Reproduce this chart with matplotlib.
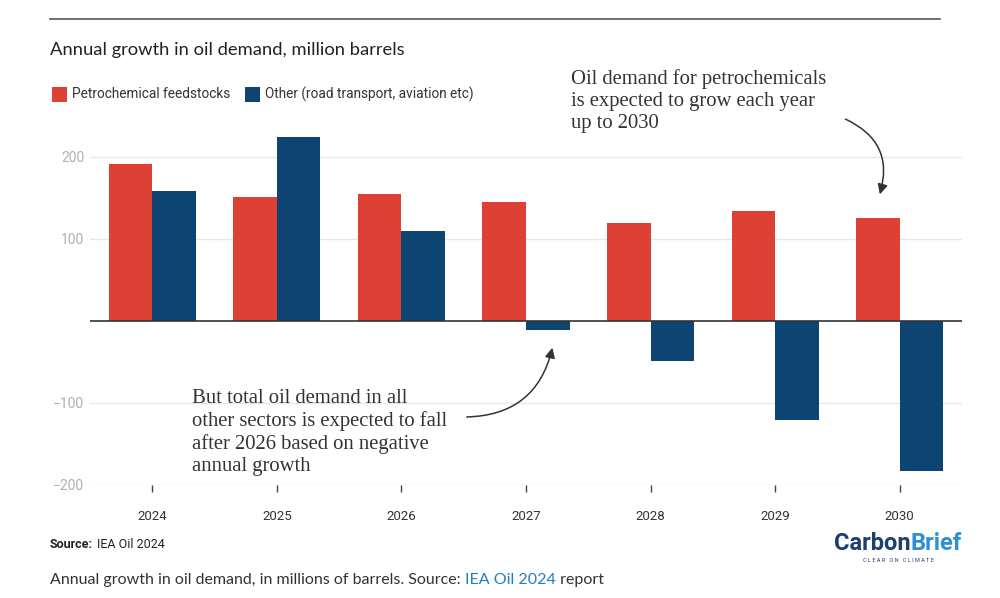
import numpy as np
import matplotlib
matplotlib.use("Agg")
import matplotlib.pyplot as plt
from matplotlib.patches import Rectangle, FancyArrowPatch

years = ["2024", "2025", "2026", "2027", "2028", "2029", "2030"]
petrochem = [191, 151, 155, 145, 120, 134, 126]
other = [158, 224, 110, -11, -49, -121, -183]
yticks = [-200, -100, 100, 200]

RED = "#dd4034"
BLUE = "#0e4472"

fig = plt.figure(figsize=(10, 5.98), dpi=100)
fig.set_facecolor("white")

# axes box in pixel terms: left 90, right 962, top 116, bottom 485
ax = fig.add_axes([0.090, 1 - 485 / 598, 0.872, (485 - 116) / 598])

x = np.arange(len(years))
w = 0.35
ax.bar(x - w / 2, petrochem, w, color=RED, zorder=3)
ax.bar(x + w / 2, other, w, color=BLUE, zorder=3)

ax.set_xlim(-0.5, 6.5)
ax.set_ylim(-200, 250)
ax.set_yticks(yticks)
ax.set_yticklabels([str(t).replace("-", "\u2212") for t in yticks])
ax.yaxis.grid(True, color="#e8e8e8", linewidth=1, zorder=0)
ax.axhline(0, color="#333333", linewidth=1.2, zorder=4)
for s in ax.spines.values():
    s.set_visible(False)

ax.set_xticks(x)
ax.set_xticklabels(years)
ax.tick_params(axis="x", length=5, width=1, color="#444444", pad=13,
               labelsize=9.5, labelcolor="#333333")
ax.tick_params(axis="y", length=0, pad=4, labelsize=10, labelcolor="#b0b0b0")
for lab in ax.get_xticklabels() + ax.get_yticklabels():
    lab.set_family(["Roboto", "DejaVu Sans"])

# top rule
fig.add_artist(plt.Line2D([0.05, 0.94], [1 - 19 / 598] * 2, color="#555555",
                          linewidth=1.2))

fig.text(0.05, 1 - 50 / 598, "Annual growth in oil demand, million barrels",
         fontsize=13.2, family=["Lato", "DejaVu Sans"], color="#222222",
         va="center")

# legend
for px, col, lbl in [(52, RED, "Petrochemical feedstocks"),
                     (245, BLUE, "Other (road transport, aviation etc)")]:
    fig.add_artist(Rectangle((px / 1000, 1 - 102 / 598), 15 / 1000, 15 / 598,
                             facecolor=col, transform=fig.transFigure))
    fig.text((px + 20) / 1000, 1 - 94 / 598, lbl, fontsize=9.8,
             family=["Roboto", "DejaVu Sans"], color="#333333", va="center")

serif = ["Liberation Serif", "DejaVu Serif"]
fig.text(0.571, 1 - 69 / 598,
         "Oil demand for petrochemicals\nis expected to grow each year\nup to 2030",
         fontsize=14.9, family=serif, color="#333333", va="top",
         linespacing=1.22)
fig.text(0.192, 1 - 389 / 598,
         "But total oil demand in all\nother sectors is expected to fall\n"
         "after 2026 based on negative\nannual growth",
         fontsize=14.9, family=serif, color="#333333", va="top",
         linespacing=1.22)

fig.add_artist(FancyArrowPatch(
    (843 / 1000, 1 - 118 / 598), (879 / 1000, 1 - 197 / 598),
    transform=fig.transFigure, connectionstyle="arc3,rad=-0.45",
    arrowstyle="-|>,head_length=6,head_width=3", color="#333333",
    linewidth=1.1))
fig.add_artist(FancyArrowPatch(
    (464 / 1000, 1 - 417 / 598), (553 / 1000, 1 - 345 / 598),
    transform=fig.transFigure, connectionstyle="arc3,rad=0.4",
    arrowstyle="-|>,head_length=6,head_width=3", color="#333333",
    linewidth=1.1))

# source + caption
fig.text(0.05, 1 - 545 / 598, "Source:", fontsize=9, weight="bold",
         family=["Roboto", "DejaVu Sans"], color="#222222", va="center")
fig.text(0.097, 1 - 545 / 598, "IEA Oil 2024", fontsize=9,
         family=["Roboto", "DejaVu Sans"], color="#222222", va="center")

cap_y = 1 - 580 / 598
parts = [("Annual growth in oil demand, in millions of barrels. Source: ", "#333333"),
         ("IEA Oil 2024", "#1f7fc4"), (" report", "#333333")]
renderer = fig.canvas.get_renderer()
cx = 0.05
for txt, col in parts:
    tt = fig.text(cx, cap_y, txt, fontsize=11.5, family=["Lato", "DejaVu Sans"],
                  color=col, va="center")
    bb = tt.get_window_extent(renderer=renderer)
    cx += bb.width / fig.bbox.width

# logo
logo_font = ["Roboto", "DejaVu Sans"]
lt = fig.text(0.834, 1 - 543 / 598, "Carbon", fontsize=17, weight="bold",
              family=logo_font, color="#1b3f6e", va="center")
bb = lt.get_window_extent(renderer=renderer)
fig.text(0.834 + bb.width / fig.bbox.width, 1 - 543 / 598, "Brief",
         fontsize=17, weight="bold", family=logo_font,
         color="#2f8fd6", va="center")
fig.text(0.898, 1 - 561 / 598, "C L E A R   O N   C L I M A T E", fontsize=4,
         family=logo_font, color="#1b3f6e", ha="center", va="center")

fig.savefig("out.png", dpi=100, facecolor="white")
